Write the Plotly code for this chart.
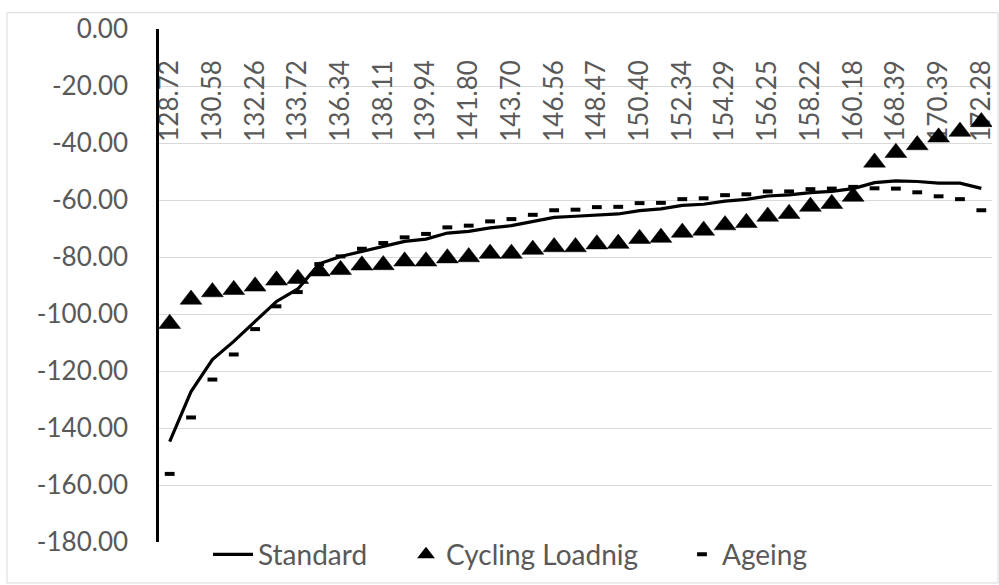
import plotly.graph_objects as go

# ---- data ----
tick_labels = ["128.72", "130.58", "132.26", "133.72", "136.34", "138.11", "139.94",
               "141.80", "143.70", "146.56", "148.47", "150.40", "152.34", "154.29",
               "156.25", "158.22", "160.18", "168.39", "170.39", "172.28"]
n_points = 39
x_idx = list(range(n_points))
tick_pos = x_idx[::2]

standard = [-144.8, -127.2, -116.0, -109.6, -102.6, -95.6, -91.2, -82.4, -79.8, -78.0,
            -76.3, -74.5, -73.7, -71.6, -71.0, -69.8, -69.0, -67.5, -66.1, -65.7,
            -65.2, -64.9, -63.7, -63.1, -61.9, -61.5, -60.4, -59.8, -58.6, -58.2,
            -57.4, -57.0, -56.0, -53.9, -53.3, -53.5, -54.1, -54.1, -55.9]

cycling = [-103.4, -94.9, -92.3, -91.5, -90.3, -88.2, -87.6, -85.0, -84.5, -82.9,
           -82.8, -81.5, -81.5, -80.4, -80.0, -78.8, -78.8, -77.4, -76.5, -76.5,
           -75.5, -75.3, -73.6, -73.2, -71.4, -70.7, -68.8, -68.0, -65.8, -64.8,
           -62.3, -61.3, -58.8, -46.8, -43.4, -40.7, -38.0, -36.0, -32.6]

ageing = [-156.1, -136.3, -123.0, -114.2, -105.3, -97.3, -92.3, -82.5, -79.8, -77.1,
          -75.1, -73.1, -71.9, -69.6, -69.0, -67.5, -66.7, -65.2, -63.6, -63.4,
          -62.5, -62.4, -61.1, -61.0, -59.7, -59.4, -58.3, -58.0, -57.0, -57.0,
          -56.2, -56.0, -55.4, -55.9, -56.0, -57.3, -58.7, -59.7, -63.6]

y_ticks = [0, -20, -40, -60, -80, -100, -120, -140, -160, -180]
y_tick_labels = ["0.00", "-20.00", "-40.00", "-60.00", "-80.00", "-100.00",
                 "-120.00", "-140.00", "-160.00", "-180.00"]

TEXT = "#595959"
GRID = "#d9d9d9"
FONT = "Lato"

fig = go.Figure()
fig.add_trace(go.Scatter(x=x_idx, y=standard, mode="lines", name="Standard",
                         line=dict(color="black", width=3.2), legend="legend"))
fig.add_trace(go.Scatter(x=x_idx, y=cycling, mode="markers", name="Cycling Loadnig",
                         marker=dict(symbol="triangle-up", size=19, color="black",
                                     line=dict(width=0.5, color="black")),
                         legend="legend2"))
fig.add_trace(go.Scatter(x=x_idx, y=ageing, mode="markers", name="Ageing",
                         marker=dict(symbol="line-ew", size=7, color="black",
                                     line=dict(color="black", width=4)),
                         legend="legend3"))

leg_common = dict(orientation="h", xref="container", yref="container",
                  xanchor="left", yanchor="middle", y=0.052,
                  bgcolor="rgba(0,0,0,0)", font=dict(family=FONT, size=28, color=TEXT))

fig.update_layout(
    width=999, height=585,
    margin=dict(l=159, r=7, t=29, b=43, autoexpand=False),
    paper_bgcolor="white", plot_bgcolor="white",
    font=dict(family=FONT, size=26, color=TEXT),
    showlegend=True,
    legend=dict(x=208 / 999, itemwidth=40, **leg_common),
    legend2=dict(x=406 / 999, itemsizing="constant", **leg_common),
    legend3=dict(x=682 / 999, itemsizing="trace", **leg_common),
    xaxis=dict(range=[-0.5, n_points - 0.5], side="bottom", anchor="free",
               position=(542 - 54) / 513, tickmode="array",
               tickvals=tick_pos, ticktext=tick_labels, tickangle=-90,
               showgrid=False, showline=False, zeroline=False, ticks="",
               layer="below traces", automargin=False,
               tickfont=dict(family=FONT, size=26, color=TEXT)),
    yaxis=dict(range=[-180, 0], tickmode="array", tickvals=y_ticks,
               ticktext=y_tick_labels, showgrid=True, gridcolor=GRID, gridwidth=1,
               showline=True, linecolor="black", linewidth=2.5, zeroline=False,
               ticks="", ticklabelstandoff=23, automargin=False,
               tickfont=dict(family=FONT, size=26, color=TEXT)),
    shapes=[dict(type="rect", xref="paper", yref="paper",
                 x0=(7 - 159) / 833, x1=(998 - 159) / 833,
                 y0=(542 - 583) / 513, y1=(542 - 12.7) / 513,
                 line=dict(color=GRID, width=1), fillcolor="rgba(0,0,0,0)",
                 layer="below")],
)

fig.write_html("out.html", config={"displayModeBar": False},
               post_script="document.body.style.margin='0';")
